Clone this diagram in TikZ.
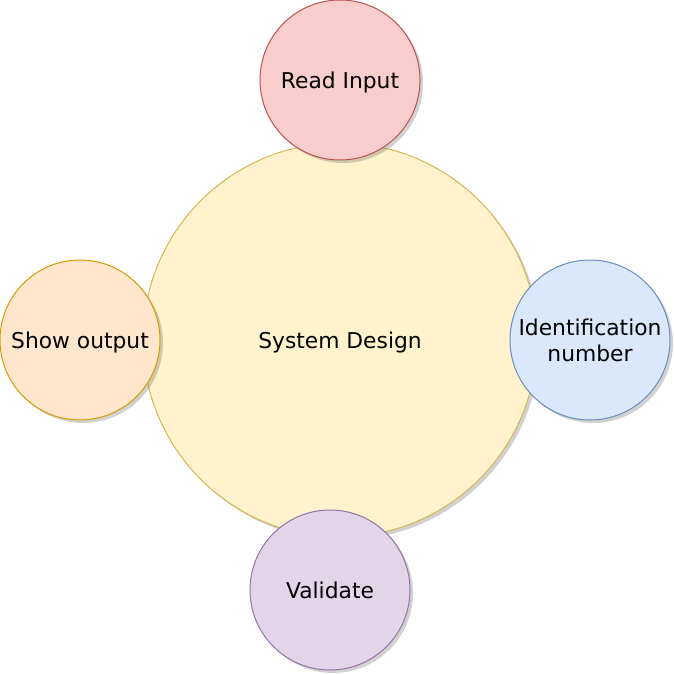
\documentclass[tikz,border=0pt]{standalone}
\usepackage{fontspec}
\setmainfont{DejaVu Sans}
\usetikzlibrary{shadows}
\definecolor{redF}{HTML}{F8CECC}\definecolor{redS}{HTML}{B85450}
\definecolor{bluF}{HTML}{DAE8FC}\definecolor{bluS}{HTML}{6C8EBF}
\definecolor{orgF}{HTML}{FFE6CC}\definecolor{orgS}{HTML}{D79B00}
\definecolor{purF}{HTML}{E1D5E7}\definecolor{purS}{HTML}{9673A6}
\definecolor{yelF}{HTML}{FFF2CC}\definecolor{yelS}{HTML}{D6B656}
\begin{document}
\begin{tikzpicture}[x=1pt,y=-1pt,
  bubble/.style={circle,minimum size=160pt,inner sep=0pt,line width=1pt,align=center,
    font=\fontsize{21.8}{26}\selectfont,text depth=0pt,
    drop shadow={shadow xshift=3pt,shadow yshift=-3pt,opacity=0.3,fill=black!60}},
  core/.style={circle,minimum size=394pt,inner sep=0pt,line width=1pt,align=center,
    font=\fontsize{21.8}{26}\selectfont,text depth=0pt,
    drop shadow={shadow xshift=3pt,shadow yshift=-3pt,opacity=0.3,fill=black!60}}]
\useasboundingbox (0,0) rectangle (673,674);
\node[core,fill=yelF,draw=yelS] (sys) at (340,340) {System Design};
\node[bubble,fill=redF,draw=redS] (read) at (340,80) {Read Input};
\node[bubble,fill=bluF,draw=bluS] (ident) at (590,340) {Identification\\number};
\node[bubble,fill=orgF,draw=orgS] (show) at (80,340) {Show output};
\node[bubble,fill=purF,draw=purS] (valid) at (330,590) {Validate};
\end{tikzpicture}
\end{document}
